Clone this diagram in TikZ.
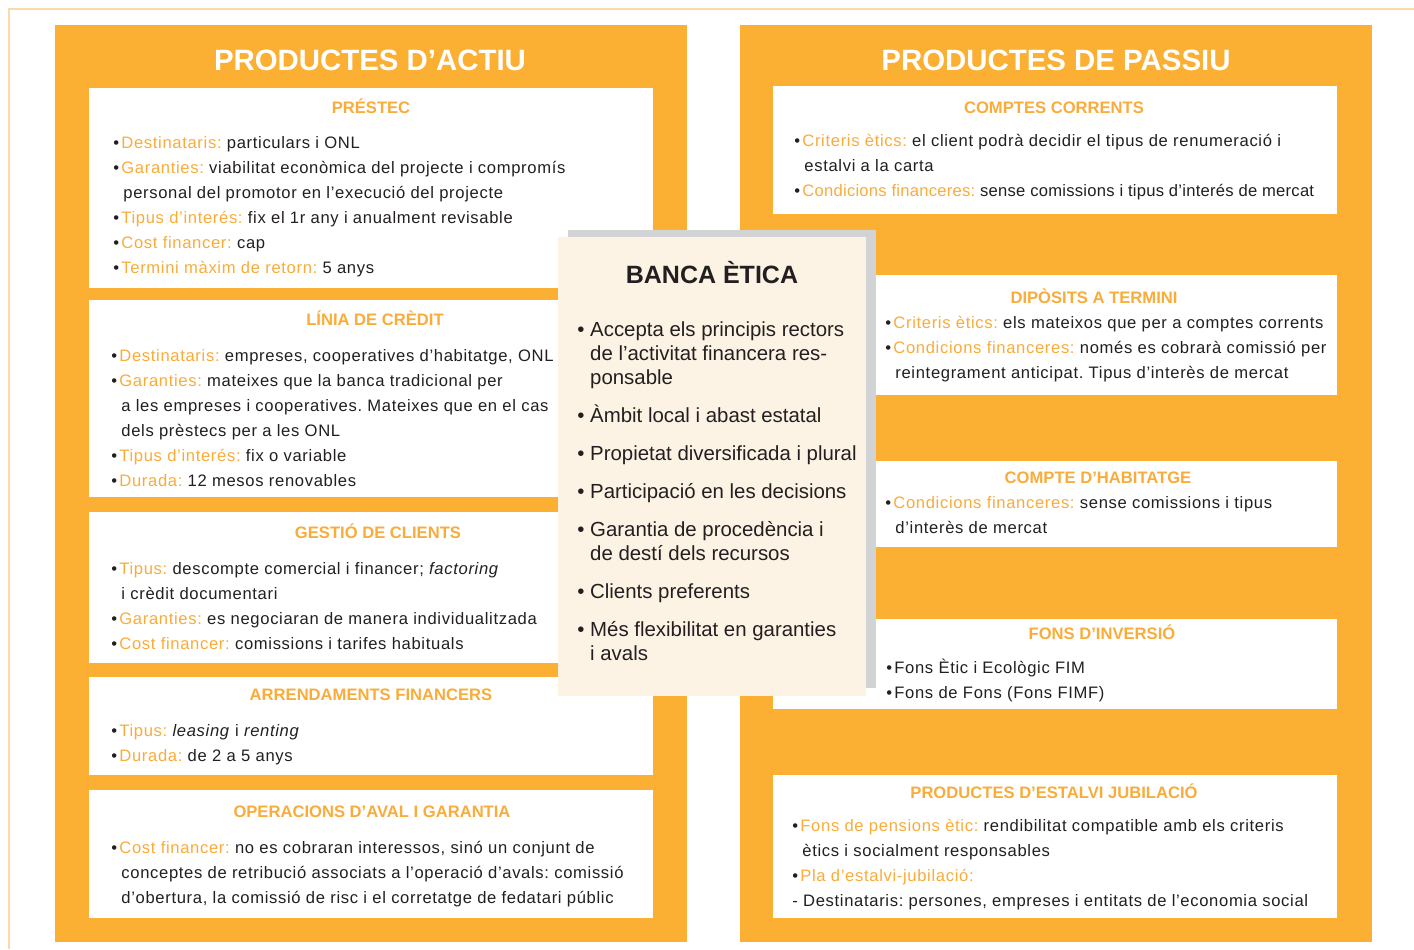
\documentclass[tikz,border=0pt]{standalone}
\usepackage{fontspec}
\setmainfont{Liberation Sans}
\newfontfamily\cosfont{Liberation Sans}[LetterSpace=4]
\usetikzlibrary{positioning}
\usepackage{xcolor}

\definecolor{taronja}{HTML}{FBB034}
\definecolor{etiqueta}{HTML}{F9AC3A}
\definecolor{crema}{HTML}{FDF3E5}
\definecolor{ombra}{HTML}{D1D3D4}
\definecolor{vora}{HTML}{FCD9A8}
\definecolor{tinta}{HTML}{231F20}

\newcommand{\etiq}[1]{\textcolor{etiqueta}{#1}}
\newcommand{\punt}{\makebox[4pt][l]{•}}
\newcommand{\sagnat}{\hspace*{5pt}}
\frenchspacing

\begin{document}
\begin{tikzpicture}[x=0.5pt, y=-0.5pt]
    \tikzstyle{panell} = [rectangle, fill=taronja, anchor=north west, inner sep=0, minimum width=316pt, minimum height=458.5pt]
    \tikzstyle{caixa} = [rectangle, fill=white, anchor=north west, inner sep=0, minimum width=282pt]
    \tikzstyle{titol} = [anchor=base, inner sep=0, text=white, font=\bfseries\fontsize{14.7}{16}\selectfont]
    \tikzstyle{capcal} = [anchor=base, inner sep=0, text=etiqueta, font=\bfseries\fontsize{8.3}{10}\selectfont]
    \tikzstyle{cos} = [anchor=north west, inner sep=0, align=left, text=tinta, font=\cosfont\frenchspacing\fontsize{8.3}{12.5}\selectfont]

    \useasboundingbox (0,0) rectangle (1414,949);
    \draw[vora, line width=0.8pt] (9,949) -- (9,9) -- (1414,9);

    % Panells
    \node[panell] (actiu) at (55,25) {};
    \node[panell] (passiu) at (740,25) {};
    \node[titol] (tactiu) at (370,70) {PRODUCTES D’ACTIU};
    \node[titol] (tpassiu) at (1056,70) {PRODUCTES DE PASSIU};

    % Productes d'actiu
    \node[caixa, minimum height=100pt] (prestec) at (89,88) {};
    \node[capcal] (tprestec) at (371,113) {PRÉSTEC};
    \node[cos] (cprestec) at (113,131) {\strut\punt\etiq{Destinataris:} particulars i ONL\\
        \punt\etiq{Garanties:} viabilitat econòmica del projecte i compromís\\
        \sagnat personal del promotor en l’execució del projecte\\
        \punt\etiq{Tipus d’interés:} fix el 1r any i anualment revisable\\
        \punt\etiq{Cost financer:} cap\\
        \punt\etiq{Termini màxim de retorn:} 5 anys};

    \node[caixa, minimum height=98.5pt] (linia) at (89,300) {};
    \node[capcal] (tlinia) at (375,325) {LÍNIA DE CRÈDIT};
    \node[cos] (clinia) at (111,343.5) {\strut\punt\etiq{Destinataris:} empreses, cooperatives d’habitatge, ONL\\
        \punt\etiq{Garanties:} mateixes que la banca tradicional per\\
        \sagnat a les empreses i cooperatives. Mateixes que en el cas\\
        \sagnat dels prèstecs per a les ONL\\
        \punt\etiq{Tipus d’interés:} fix o variable\\
        \punt\etiq{Durada:} 12 mesos renovables};

    \node[caixa, minimum height=75.5pt] (gestio) at (89,512) {};
    \node[capcal] (tgestio) at (378,538) {GESTIÓ DE CLIENTS};
    \node[cos] (cgestio) at (111,556.5) {\strut\punt\etiq{Tipus:} descompte comercial i financer; \textit{factoring}\\
        \sagnat i crèdit documentari\\
        \punt\etiq{Garanties:} es negociaran de manera individualitzada\\
        \punt\etiq{Cost financer:} comissions i tarifes habituals};

    \node[caixa, minimum height=49pt] (arrend) at (89,677) {};
    \node[capcal] (tarrend) at (371,700) {ARRENDAMENTS FINANCERS};
    \node[cos] (carrend) at (111,718.5) {\strut\punt\etiq{Tipus:} \textit{leasing} i \textit{renting}\\
        \punt\etiq{Durada:} de 2 a 5 anys};

    \node[caixa, minimum height=64pt] (aval) at (89,790) {};
    \node[capcal] (taval) at (372,817) {OPERACIONS D’AVAL I GARANTIA};
    \node[cos] (caval) at (111,835.5) {\strut\punt\etiq{Cost financer:} no es cobraran interessos, sinó un conjunt de\\
        \sagnat conceptes de retribució associats a l’operació d’avals: comissió\\
        \sagnat d’obertura, la comissió de risc i el corretatge de fedatari públic};

    % Productes de passiu
    \node[caixa, minimum height=64pt] (comptes) at (773,86) {};
    \node[capcal] (tcomptes) at (1054,113) {COMPTES CORRENTS};
    \node[cos] (ccomptes) at (794,128.5) {\strut\punt\etiq{Criteris ètics:} el client podrà decidir el tipus de renumeració i\\
        \sagnat estalvi a la carta\\
        {\addfontfeatures{LetterSpace=1.5}\punt\etiq{Condicions financeres:} sense comissions i tipus d’interés de mercat}};

    \node[caixa, minimum height=60pt] (diposits) at (773,275) {};
    \node[capcal] (tdiposits) at (1094,303) {DIPÒSITS A TERMINI};
    \node[cos] (cdiposits) at (885,310.5) {\strut\punt\etiq{Criteris ètics:} els mateixos que per a comptes corrents\\
        \punt\etiq{Condicions financeres:} només es cobrarà comissió per\\
        \sagnat reintegrament anticipat. Tipus d’interès de mercat};

    \node[caixa, minimum height=43pt] (habitatge) at (773,461) {};
    \node[capcal] (thabitatge) at (1098,483) {COMPTE D’HABITATGE};
    \node[cos] (chabitatge) at (885,490.5) {\strut\punt\etiq{Condicions financeres:} sense comissions i tipus\\
        \sagnat d’interès de mercat};

    \node[caixa, minimum height=45pt] (fons) at (773,619) {};
    \node[capcal] (tfons) at (1102,639) {FONS D’INVERSIÓ};
    \node[cos] (cfons) at (886,655.5) {\strut\punt Fons Ètic i Ecològic FIM\\
        \punt Fons de Fons (Fons FIMF)};

    \node[caixa, minimum height=71.5pt] (jubilacio) at (773,775) {};
    \node[capcal] (tjubilacio) at (1054,798) {PRODUCTES D’ESTALVI JUBILACIÓ};
    \node[cos] (cjubilacio) at (792,813.5) {\strut\punt\etiq{Fons de pensions ètic:} rendibilitat compatible amb els criteris\\
        \sagnat ètics i socialment responsables\\
        \punt\etiq{Pla d’estalvi-jubilació:}\\
        - Destinataris: persones, empreses i entitats de l’economia social};

    % Banca etica
    \node[rectangle, fill=ombra, anchor=north west, inner sep=0, minimum width=154pt, minimum height=229pt] (ombra) at (568,230) {};
    \node[rectangle, fill=crema, anchor=north west, inner sep=0, minimum width=154pt, minimum height=229.5pt] (banca) at (558,237) {};
    \node[anchor=base, inner sep=0, text=tinta, font=\bfseries\fontsize{12.5}{14}\selectfont] (tbanca) at (712,283) {BANCA ÈTICA};
    \node[anchor=north west, inner sep=0, align=left, text=tinta, font=\fontsize{10.2}{12}\selectfont] (cbanca) at (577,319.2) {\strut• Accepta els principis rectors\\
        \phantom{• }de l’activitat financera res-\\
        \phantom{• }ponsable\\[7pt]
        • Àmbit local i abast estatal\\[7pt]
        • Propietat diversificada i plural\\[7pt]
        • Participació en les decisions\\[7pt]
        • Garantia de procedència i\\
        \phantom{• }de destí dels recursos\\[7pt]
        • Clients preferents\\[7pt]
        • Més flexibilitat en garanties\\
        \phantom{• }i avals};
\end{tikzpicture}
\end{document}
